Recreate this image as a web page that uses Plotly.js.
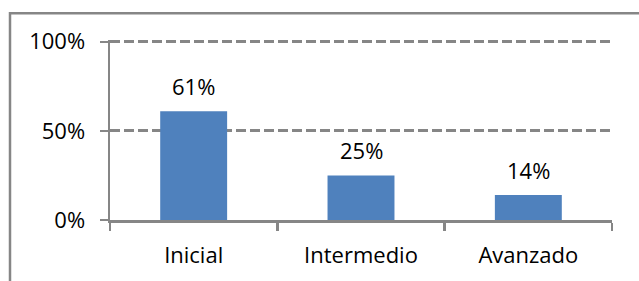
<!DOCTYPE html>
<html>
<head>
<meta charset="utf-8">
<script src="https://cdn.plot.ly/plotly-3.0.1.min.js"></script>
<style>html,body{margin:0;padding:0;background:#fff;}#chart{width:639px;height:281px;}</style>
</head>
<body>
<div id="chart"></div>
<script>
const categories = ["Inicial", "Intermedio", "Avanzado"];
const values = [0.61, 0.25, 0.14];
const labels = ["61%", "25%", "14%"];
const yTicks = [0, 0.5, 1];
const yTickText = ["0%", "50%", "100%"];

const gray = "#868686";
const fontFamily = "'Open Sans', sans-serif";

const trace = {
  type: "bar",
  x: categories,
  y: values,
  marker: { color: "#4F81BD", line: { width: 0 } },
  hoverinfo: "none"
};

const annotations = categories.map((c, i) => ({
  x: c, y: values[i], xref: "x", yref: "y",
  text: labels[i], showarrow: false, yanchor: "bottom", yshift: 8,
  font: { family: fontFamily, size: 22, color: "#000" }
}));

const layout = {
  width: 639, height: 281, autosize: false,
  margin: { l: 110, r: 27, t: 40.2, b: 61, pad: 0 },
  paper_bgcolor: "#fff", plot_bgcolor: "#fff",
  showlegend: false,
  bargap: 0.6,
  font: { family: fontFamily, size: 22, color: "#000" },
  xaxis: {
    type: "category", showline: true, linecolor: gray, linewidth: 2.5,
    ticks: "outside", tickson: "boundaries", ticklen: 8, tickwidth: 2.5, tickcolor: gray,
    showgrid: false, zeroline: false, ticklabelstandoff: 14,
    tickfont: { family: fontFamily, size: 22, color: "#000" }
  },
  yaxis: {
    range: [0, 1.01], tickvals: yTicks, ticktext: yTickText,
    showline: true, linecolor: gray, linewidth: 2.5,
    ticks: "outside", ticklen: 8, tickwidth: 2.5, tickcolor: gray,
    showgrid: true, gridcolor: gray, gridwidth: 3, griddash: "10px,4px",
    zeroline: false, ticklabelstandoff: 10,
    tickfont: { family: fontFamily, size: 22, color: "#000" }
  },
  annotations: annotations,
  shapes: [{
    type: "rect", xref: "paper", yref: "paper",
    x0: -0.1992, x1: 1.066, y0: -0.39, y1: 1.149,
    line: { color: gray, width: 2.5 }, fillcolor: "rgba(0,0,0,0)", layer: "below"
  }]
};

Plotly.newPlot("chart", [trace], layout, { staticPlot: true, displayModeBar: false });
</script>
</body>
</html>
